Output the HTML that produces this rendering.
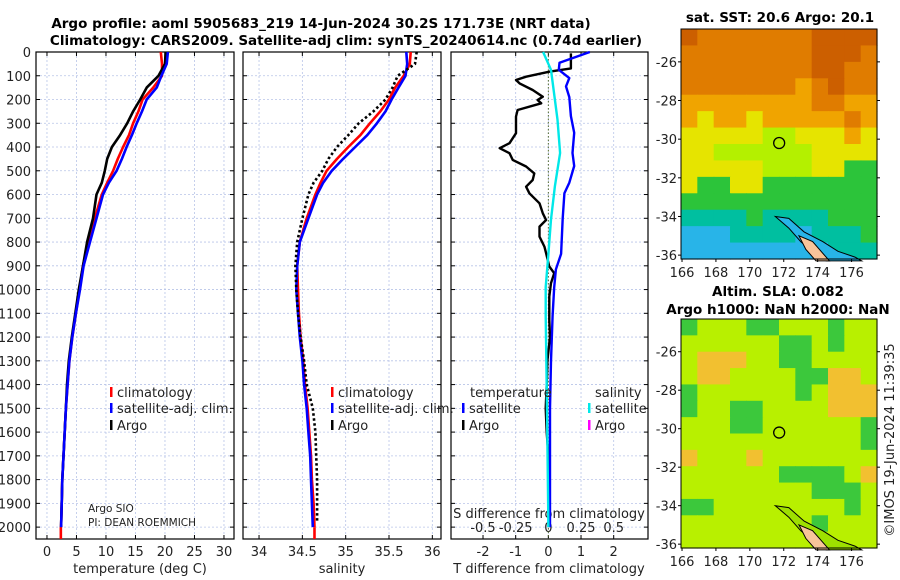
<!DOCTYPE html>
<html><head><meta charset="utf-8">
<style>
html,body{margin:0;padding:0;background:#fff;}
svg{display:block;font-family:"DejaVu Sans","Liberation Sans",sans-serif;}
.t{font-size:13px;fill:#222;}
.b{font-size:13.5px;font-weight:bold;fill:#000;}
.s{font-size:10.5px;fill:#222;}
</style></head>
<body>
<svg id="fig" width="900" height="580" viewBox="0 0 900 580"></svg>
<script>
// ---- Data ----
const depths = [0,50,100,150,200,250,300,350,400,450,500,550,600,700,800,900,1000,1100,1200,1300,1400,1500,1600,1700,1800,1900,2000];
const tempClim = [19.3,19.5,19.5,18.0,16.2,15.5,14.6,13.9,12.9,12.0,11.2,10.2,9.3,8.1,7.0,6.1,5.5,4.9,4.3,3.8,3.5,3.2,3.0,2.8,2.6,2.5,2.4];
const tempSat  = [20.5,20.3,19.4,18.6,16.9,16.1,15.2,14.4,13.5,12.7,11.8,10.5,9.5,8.4,7.3,6.2,5.6,4.9,4.3,3.8,3.5,3.2,3.0,2.8,2.6,2.5,2.4];
const tempArgo = [20.1,20.0,18.9,16.9,15.8,14.6,13.6,12.4,11.0,10.2,9.8,9.3,8.4,7.8,6.8,6.1,5.4,4.8,4.2,3.7,3.4,3.2,3.0,2.8,2.6,2.5,2.4];
const salClim = [35.75,35.74,35.67,35.57,35.50,35.40,35.28,35.17,35.03,34.90,34.78,34.71,34.65,34.55,34.47,34.44,34.45,34.46,34.48,34.51,34.53,34.56,34.58,34.60,34.61,34.63,34.64];
const salSat  = [35.70,35.71,35.69,35.61,35.53,35.46,35.36,35.25,35.11,34.97,34.84,34.74,34.67,34.57,34.47,34.44,34.43,34.45,34.47,34.50,34.52,34.55,34.57,34.59,34.60,34.61,34.62];
const salArgo = [35.82,35.80,35.60,35.54,35.46,35.32,35.15,35.03,34.90,34.80,34.73,34.63,34.57,34.50,34.44,34.42,34.43,34.45,34.48,34.52,34.55,34.62,34.65,34.66,34.67,34.67,34.67];
const diffDepthSat = [0,45,75,110,145,190,270,340,425,480,550,595,700,850,915,990,1110,1300,1500,1700,2000];
const diffTSat = [1.27,0.34,0.32,0.64,0.54,0.64,0.69,0.79,0.74,0.79,0.64,0.49,0.44,0.39,0.23,0.18,0.13,0.08,0.05,0.05,0.05];
const diffDepthSSat = [0,75,285,425,565,705,850,990,1110,1500,2000];
const diffSSat = [-0.04,0.02,0.07,0.09,0.05,0.02,0,-0.02,-0.02,-0.01,0];
const diffDepthArgo = [6,69,83,104,118,132,160,188,202,216,244,272,300,342,384,405,426,440,454,482,511,539,567,595,637,679,707,735,777,819,847,903,931,973,1029,1086,1128,1200,1300,1400,1500,1600,1700,1800,1900,2000];
const diffTArgo = [0.69,0.69,0.03,-0.68,-0.99,-0.88,-0.48,-0.17,-0.33,-0.22,-0.94,-0.99,-0.99,-0.99,-1.19,-1.49,-1.19,-1.14,-1.09,-0.68,-0.43,-0.48,-0.68,-0.58,-0.27,-0.17,-0.07,-0.27,-0.27,-0.12,-0.07,0.03,0.18,0.08,0.03,0.03,0.03,0.05,-0.03,-0.05,-0.08,-0.05,0,0.02,0,0.02];
const depthTicks = [0,100,200,300,400,500,600,700,800,900,1000,1100,1200,1300,1400,1500,1600,1700,1800,1900,2000];
const tempTicks = [0,5,10,15,20,25,30];
const salTicks = [34,34.5,35,35.5,36];
const salTickLabels = ["34","34.5","35","35.5","36"];
const dTTicks = [-2,-1,0,1,2];
const dSTicks = [-0.5,-0.25,0,0.25,0.5];
const dSTickLabels = ["-0.5","-0.25","0","0.25","0.5"];
const latTicks = [-26,-28,-30,-32,-34,-36];
const lonTicks = [166,168,170,172,174,176];
const argoLon = 171.73, argoLat = -30.2;
// map grids (rows north->south, cols west->east)
const sstGrid = ["DOOOOOOODDDD","OOOOOOOODDDO","OOOOOOOODDOO","OOOOOOOoODOO","ooooooooOOoo","oYooYoooooOo","YYYYYyyYYYoY","YYyyyyyyYYYY","YYYYYyyyYYGG","YGGYYGGGGGGG","GGGGGGGGGGGG","TTTTGTTTTGGG","CCCTTTTCTTTG","CCCCCCCCCTTT"];
const slaGrid = ["GyyyGGyyyGyy","yyyyyyGGyGyy","yoooyyGGyyyy","yooyyyyGGooy","GyyyyyyGyooo","GyyGGyyyyooo","yyyGGyyyyyyG","yyyyyyyyyyyG","oyyyoyyyyyyy","yyyyyyGGGGyo","yyyyyyyyGGGy","GGyyyyyyyyGy","yyyyyyyyGyyy","yyyyyyyyyyyy"];
const palette = {D:"#cc5f00",O:"#e07c00",o:"#f0a400",Y:"#e6e400",y:"#b4f000",G:"#2cc43a",T:"#00bfa0",C:"#28b4e8"};
const slaPalette = {y:"#b8f000",G:"#3cc83c",o:"#f2c030"};
const island = [[171.5,-34.0],[172.3,-34.1],[173.2,-34.8],[174.3,-35.3],[175.2,-35.8],[176.2,-36.1],[176.6,-36.3],[175.5,-36.3],[174.5,-36.3],[173.8,-35.9],[173.0,-35.3],[172.3,-34.6]];
const islandLand = [[172.9,-35.0],[173.7,-35.3],[174.3,-35.9],[174.7,-36.3],[173.9,-36.3],[173.3,-35.7]];

// ---- helpers ----
const svg = document.getElementById('fig');
const NS = "http://www.w3.org/2000/svg";
function mk(tag, attrs, parent){ const e=document.createElementNS(NS,tag); for(const k in attrs) e.setAttribute(k,attrs[k]); (parent||svg).appendChild(e); return e; }
function txt(x,y,s,cls,anchor,parent){ const e=mk('text',{x:x,y:y,class:cls,'text-anchor':anchor||'start'},parent); e.textContent=s; return e; }

const PT=52, PB=539, D0=0, D1=2050;
const yD = d => PT + (d-D0)/(D1-D0)*(PB-PT);
const panels = [
  {x0:36,x1:234,v0:-1.86,v1:31.7,name:'temperature-panel'},
  {x0:243,x1:441,v0:33.815,v1:36.1,name:'salinity-panel'},
  {x0:451,x1:648,v0:-2.98,v1:3.05,name:'difference-panel'}
];
panels.forEach(p=>{p.sx = v => p.x0 + (v-p.v0)/(p.v1-p.v0)*(p.x1-p.x0);});
const xT=panels[0].sx, xS=panels[1].sx, xDT=panels[2].sx;
const xDS = s => xDT(s*4);

function line(xs, ds, fx, color, w, name, dash, parent){
  const pts = xs.map((v,i)=>fx(v).toFixed(1)+","+yD(ds[i]).toFixed(1)).join(" ");
  const e = mk('polyline',{points:pts,fill:'none',stroke:color,'stroke-width':w,'stroke-linejoin':'round'},parent);
  if(dash) e.setAttribute('stroke-dasharray',dash);
  
  
  return e;
}

// titles
txt(321,28,"Argo profile: aoml 5905683_219 14-Jun-2024 30.2S 171.73E (NRT data)","b","middle");
txt(346,45,"Climatology: CARS2009. Satellite-adj clim: synTS_20240614.nc (0.74d earlier)","b","middle");

// panels frames and grids
panels.forEach((p,pi)=>{
  const g = mk('g',{});
  
  
  const ticks = pi==0?tempTicks:(pi==1?salTicks:dTTicks);
  ticks.forEach(t=>{ const x=p.sx(t); mk('line',{x1:x,x2:x,y1:PT,y2:PB,stroke:'#b8c4e8','stroke-width':0.8,'stroke-dasharray':'2,2'},g);
    mk('line',{x1:x,x2:x,y1:PB,y2:PB-4,stroke:'#000','stroke-width':1},g);
    mk('line',{x1:x,x2:x,y1:PT,y2:PT+4,stroke:'#000','stroke-width':1},g);});
  depthTicks.forEach(d=>{ const y=yD(d); mk('line',{x1:p.x0,x2:p.x1,y1:y,y2:y,stroke:'#b8c4e8','stroke-width':0.8,'stroke-dasharray':'2,2'},g);
    mk('line',{x1:p.x0,x2:p.x0+4,y1:y,y2:y,stroke:'#000'},g); mk('line',{x1:p.x1,x2:p.x1-4,y1:y,y2:y,stroke:'#000'},g);});
  mk('rect',{x:p.x0,y:PT,width:p.x1-p.x0,height:PB-PT,fill:'none',stroke:'#000','stroke-width':1.2},g);
});
// depth labels
depthTicks.forEach(d=>{ const e=txt(31,yD(d)+5,String(d),"t","end");  });
// x tick labels
tempTicks.forEach(t=>txt(xT(t),556,String(t),"t","middle"));
salTicks.forEach((t,i)=>txt(xS(t),556,salTickLabels[i],"t","middle"));
dTTicks.forEach(t=>txt(xDT(t),556,String(t),"t","middle"));
dSTicks.forEach((t,i)=>txt(xDS(t),532,dSTickLabels[i],"t","middle"));
txt(549,518,"S difference from climatology","t","middle");
txt(140,573,"temperature (deg C)","t","middle");
txt(342,573,"salinity","t","middle");
txt(549,573,"T difference from climatology","t","middle");

// zero line
mk('line',{x1:xDT(0),x2:xDT(0),y1:PT,y2:PB,stroke:'#556b2f','stroke-width':1,'stroke-dasharray':'1.5,2'});

// series
line(tempClim, depths, xT, '#ff0000', 2.6, 'temperature-climatology-line');
mk('line',{x1:xT(2.35),x2:xT(2.35),y1:yD(2000),y2:PB,stroke:'#ff0000','stroke-width':2.6});
line(tempArgo, depths, xT, '#000000', 2.6, 'temperature-argo-line');
line(tempSat, depths, xT, '#0000ff', 2.6, 'temperature-satellite-line');
line(salClim, depths, xS, '#ff0000', 2.6, 'salinity-climatology-line');
mk('line',{x1:xS(34.64),x2:xS(34.64),y1:yD(2000),y2:PB,stroke:'#ff0000','stroke-width':2.6});
line(salSat, depths, xS, '#0000ff', 2.6, 'salinity-satellite-line');
line(salArgo.slice(0,26).concat([34.67]), depths.slice(0,26).concat([1975]), xS, '#000000', 2.6, 'salinity-argo-line', '2.5,2.5');
line(diffTArgo, diffDepthArgo, xDT, '#000000', 2.4, 'tdiff-argo-line');
line(diffTSat, diffDepthSat, xDT, '#0000ff', 2.4, 'tdiff-satellite-line');
line(diffSSat, diffDepthSSat, xDS, '#00e8e8', 2.4, 'sdiff-satellite-line');

// legends
function legItem(x,y,color,label,name){
  const g=mk('g',{});  
  mk('rect',{x:x,y:y-10,width:2.5,height:10,fill:color},g);
  txt(x+7,y,label,"t","start",g);
}
legItem(110,397,'#ff0000','climatology','legend-climatology');
legItem(110,413,'#0000ff','satellite-adj. clim.','legend-satellite-adj');
legItem(110,430,'#000000','Argo','legend-argo');
legItem(331,397,'#ff0000','climatology','legend-sal-climatology');
legItem(331,413,'#0000ff','satellite-adj. clim.','legend-sal-satellite-adj');
legItem(331,430,'#000000','Argo','legend-sal-argo');
txt(470,397,"temperature","t");
txt(595,397,"salinity","t");
legItem(462,413,'#0000ff','satellite','legend-tdiff-satellite');
legItem(462,430,'#000000','Argo','legend-tdiff-argo');
legItem(588,413,'#00e8e8','satellite','legend-sdiff-satellite');
legItem(588,430,'#ff00ff','Argo','legend-sdiff-argo');
txt(88,512,"Argo SIO","s");
txt(88,526,"PI: DEAN ROEMMICH","s");

// maps
function drawMap(top,bottom,grid,pal,name,landCol){
  const L=681,R=877,lon0=165.94,lon1=177.5;
  const lat0=-24.3, lat1=-36.2;
  const mx = lo => L+(lo-lon0)/(lon1-lon0)*(R-L);
  const my = la => top+(la-lat0)/(lat1-lat0)*(bottom-top);
  const g=mk('g',{});  
  const rows=grid.length, cols=grid[0].length, cw=(R-L)/cols, ch=(bottom-top)/rows;
  grid.forEach((row,r)=>{ for(let c=0;c<cols;c++){ mk('rect',{x:(L+c*cw).toFixed(2),y:(top+r*ch).toFixed(2),width:(cw+0.6).toFixed(2),height:(ch+0.6).toFixed(2),fill:pal[row[c]]},g);} });
  const ip = island.map(p=>mx(p[0]).toFixed(1)+","+my(p[1]).toFixed(1)).join(" ");
  mk('polygon',{points:ip,fill:landCol,stroke:'#000','stroke-width':1},g);
  const lp = islandLand.map(p=>mx(p[0]).toFixed(1)+","+my(p[1]).toFixed(1)).join(" ");
  mk('polygon',{points:lp,fill:'#f8c49a',stroke:'#000','stroke-width':1},g);
  const c=mk('circle',{cx:mx(argoLon),cy:my(argoLat),r:5.5,fill:'none',stroke:'#000','stroke-width':1.3},g);
   
  mk('rect',{x:L,y:top,width:R-L,height:bottom-top,fill:'none',stroke:'#000','stroke-width':1},g);
  latTicks.forEach(la=>{ const y=my(la); mk('line',{x1:R,x2:R+3,y1:y,y2:y,stroke:'#000'},g); mk('line',{x1:L,x2:L-3,y1:y,y2:y,stroke:'#000'},g); txt(L-4,y+5,String(la),"t","end",g);});
  lonTicks.forEach(lo=>{ const x=mx(lo); mk('line',{x1:x,x2:x,y1:bottom,y2:bottom+3,stroke:'#000'},g); txt(x,bottom+18,String(lo),"t","middle",g);});
}
drawMap(29,259,sstGrid,palette,'sst-map','#28b4e8');
drawMap(319,548,slaGrid,slaPalette,'sla-map','#9ee000');
txt(780,22,"sat. SST: 20.6 Argo: 20.1","b","middle");
txt(778,296,"Altim. SLA: 0.082","b","middle");
txt(778,314,"Argo h1000: NaN h2000: NaN","b","middle");
const cp=txt(0,0,"©IMOS 19-Jun-2024 11:39:35","t","middle");
cp.setAttribute('transform','translate(894,440) rotate(-90)');
</script>
</body></html>
